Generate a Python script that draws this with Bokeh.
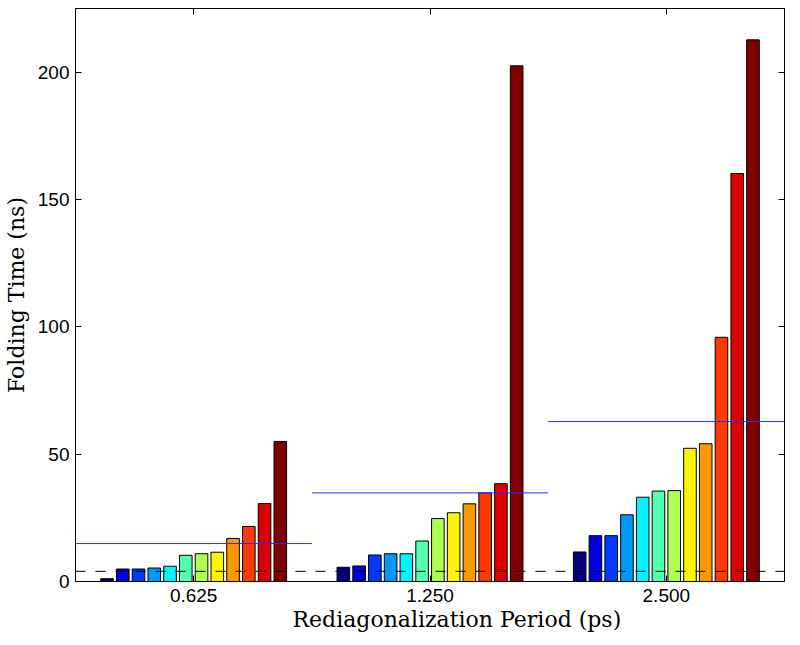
from bokeh.plotting import figure
from bokeh.models import Range1d, FixedTicker, LinearAxis, Title, ColumnDataSource, Span
from bokeh.embed import file_html
from bokeh.resources import INLINE

# ---- data ----
periods = ["0.625", "1.250", "2.500"]           # rediagonalization period (ps)
fold_0625 = [1.1, 4.9, 4.9, 5.3, 6.0, 10.3, 10.9, 11.5, 16.9, 21.6, 30.6, 55.0]
fold_1250 = [5.6, 6.1, 10.4, 10.9, 10.9, 15.9, 24.7, 27.0, 30.5, 34.8, 38.4, 202.5]
fold_2500 = [11.6, 18.0, 18.0, 26.2, 33.1, 35.5, 35.7, 52.3, 54.1, 95.9, 160.2, 212.7]
group_means = [14.9, 34.8, 62.8]                 # blue horizontal lines
ref_level = 4.0                                   # dashed reference line
y_ticks = [0, 50, 100, 150, 200]
bar_colors = ["#000080", "#0000DC", "#003AFF", "#0097FF", "#00F3FF", "#51FFAE",
              "#AEFF51", "#FFF300", "#FF9700", "#FF3A00", "#DC0000", "#800000"]

series = [fold_0625, fold_1250, fold_2500]
n_bars = len(fold_0625)
group_pos = [i + 1 for i in range(len(periods))]
pitch = 0.8 / n_bars
bar_w = pitch * 0.8

xs, tops, fills = [], [], []
for g, vals in zip(group_pos, series):
    for j, v in enumerate(vals):
        xs.append(g + (j - (n_bars - 1) / 2) * pitch)
        tops.append(v)
        fills.append(bar_colors[j])
bars = ColumnDataSource(dict(x=xs, top=tops, color=fills))

means = ColumnDataSource(dict(x0=[g - 0.5 for g in group_pos], x1=[g + 0.5 for g in group_pos],
                              y=group_means))

TICK_FONT = "Liberation Sans"
LABEL_FONT = "DejaVu Serif"

p = figure(width=792, height=636, x_range=Range1d(0.5, 3.5), y_range=Range1d(0, 225),
           output_backend="svg", toolbar_location=None,
           min_border_left=70, min_border_right=8, min_border_top=8, min_border_bottom=55)
p.grid.visible = False
p.outline_line_color = "black"
p.background_fill_color = "white"
p.border_fill_color = "white"

p.vbar(x="x", top="top", width=bar_w, bottom=0, source=bars, fill_color="color",
       line_color="black", line_width=1)
p.segment(x0="x0", x1="x1", y0="y", y1="y", source=means, line_color="#2a2aff", line_width=1)
p.add_layout(Span(location=ref_level, dimension="width", line_color="black",
                  line_width=1, line_dash="10 10"))

# bottom axis
xa = p.xaxis[0]
xa.ticker = FixedTicker(ticks=group_pos, minor_ticks=[])
xa.major_label_overrides = {g: lab for g, lab in zip(group_pos, periods)}
xa.major_label_text_font = TICK_FONT
xa.major_label_text_font_size = "19px"
xa.major_label_text_color = "black"
xa.major_label_standoff = 7
xa.major_tick_in = 6
xa.major_tick_out = 0
xa.minor_tick_in = 0
xa.minor_tick_out = 0
xa.axis_line_color = "black"
xa.major_tick_line_color = "black"

# left axis
ya = p.yaxis[0]
ya.ticker = FixedTicker(ticks=y_ticks, minor_ticks=[])
ya.major_label_text_font = TICK_FONT
ya.major_label_text_font_size = "19px"
ya.major_label_text_color = "black"
ya.major_label_standoff = 6
ya.major_tick_in = 6
ya.major_tick_out = 0
ya.minor_tick_in = 0
ya.minor_tick_out = 0
ya.axis_line_color = "black"
ya.major_tick_line_color = "black"
ya.axis_label = "Folding Time (ns)"
ya.axis_label_text_font = LABEL_FONT
ya.axis_label_text_font_size = "22px"
ya.axis_label_text_font_style = "normal"
ya.axis_label_text_color = "black"
ya.axis_label_standoff = 6

# mirrored ticks on top and right (no labels)
top_ax = LinearAxis(ticker=FixedTicker(ticks=group_pos, minor_ticks=[]),
                    major_label_overrides={g: "" for g in group_pos},
                    major_label_text_font_size="0px", major_label_standoff=0,
                    major_tick_in=6, major_tick_out=0, minor_tick_in=0, minor_tick_out=0,
                    axis_line_color="black", major_tick_line_color="black")
right_ax = LinearAxis(ticker=FixedTicker(ticks=y_ticks, minor_ticks=[]),
                      major_label_overrides={t: "" for t in y_ticks},
                      major_label_text_font_size="0px", major_label_standoff=0,
                      major_tick_in=6, major_tick_out=0, minor_tick_in=0, minor_tick_out=0,
                      axis_line_color="black", major_tick_line_color="black")
p.add_layout(top_ax, "above")
p.add_layout(right_ax, "right")

# x axis title (slightly right of center, as in the reference)
xtitle = Title(text="Rediagonalization Period (ps)", align="left", offset=217,
               text_font=LABEL_FONT, text_font_size="22px", text_font_style="normal",
               text_color="black", standoff=0)
p.add_layout(xtitle, "below")

open("out.html", "w").write(file_html(p, INLINE))
